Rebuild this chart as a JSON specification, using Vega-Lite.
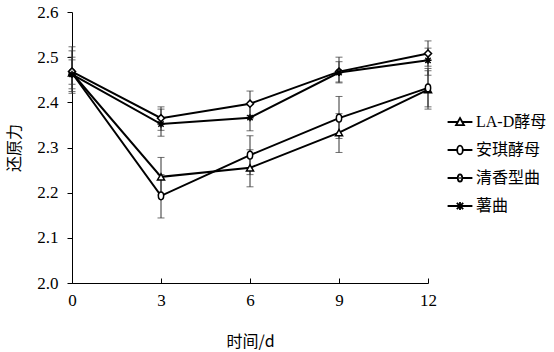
{
  "$schema": "https://vega.github.io/schema/vega-lite/v6.json",
  "width": 356,
  "height": 271,
  "autosize": {"type": "none"},
  "padding": {"left": 72, "top": 12, "right": 126, "bottom": 69},
  "background": "white",
  "config": {
    "view": {"stroke": null},
    "font": "Liberation Serif, 'Noto Sans CJK SC'",
    "axis": {
      "grid": false,
      "domainColor": "#000",
      "tickColor": "#000",
      "labelColor": "#000",
      "titleColor": "#000",
      "labelFont": "Liberation Serif",
      "labelFontSize": 17,
      "titleFont": "'Noto Sans CJK SC', Liberation Serif",
      "titleFontSize": 16,
      "titleFontWeight": "normal"
    }
  },
  "data": {
    "values": [
      {"series": "LA-D酵母", "day": 0, "value": 2.465, "lo": 2.43, "hi": 2.50},
      {"series": "LA-D酵母", "day": 3, "value": 2.235, "lo": 2.195, "hi": 2.278},
      {"series": "LA-D酵母", "day": 6, "value": 2.255, "lo": 2.213, "hi": 2.295},
      {"series": "LA-D酵母", "day": 9, "value": 2.333, "lo": 2.289, "hi": 2.375},
      {"series": "LA-D酵母", "day": 12, "value": 2.428, "lo": 2.385, "hi": 2.47},
      {"series": "安琪酵母", "day": 0, "value": 2.465, "lo": 2.42, "hi": 2.514},
      {"series": "安琪酵母", "day": 3, "value": 2.193, "lo": 2.144, "hi": 2.24},
      {"series": "安琪酵母", "day": 6, "value": 2.283, "lo": 2.24, "hi": 2.326},
      {"series": "安琪酵母", "day": 9, "value": 2.365, "lo": 2.32, "hi": 2.413},
      {"series": "安琪酵母", "day": 12, "value": 2.432, "lo": 2.39, "hi": 2.475},
      {"series": "清香型曲", "day": 0, "value": 2.468, "lo": 2.44, "hi": 2.494},
      {"series": "清香型曲", "day": 3, "value": 2.365, "lo": 2.338, "hi": 2.39},
      {"series": "清香型曲", "day": 6, "value": 2.397, "lo": 2.37, "hi": 2.425},
      {"series": "清香型曲", "day": 9, "value": 2.468, "lo": 2.445, "hi": 2.49},
      {"series": "清香型曲", "day": 12, "value": 2.508, "lo": 2.48, "hi": 2.536},
      {"series": "薯曲", "day": 0, "value": 2.462, "lo": 2.424, "hi": 2.523},
      {"series": "薯曲", "day": 3, "value": 2.352, "lo": 2.325, "hi": 2.385},
      {"series": "薯曲", "day": 6, "value": 2.366, "lo": 2.337, "hi": 2.395},
      {"series": "薯曲", "day": 9, "value": 2.466, "lo": 2.443, "hi": 2.5},
      {"series": "薯曲", "day": 12, "value": 2.493, "lo": 2.46, "hi": 2.52}
    ]
  },
  "encoding": {
    "x": {
      "field": "day", "type": "quantitative",
      "scale": {"domain": [0, 12], "nice": false, "zero": false},
      "axis": {"values": [0, 3, 6, 9, 12], "tickSize": -5, "labelPadding": 14, "title": "时间/d", "titlePadding": 25, "labelFlush": false}
    }
  },
  "layer": [
    {
      "mark": {"type": "rule", "color": "#333", "strokeWidth": 1},
      "encoding": {
        "y": {"field": "lo", "type": "quantitative"},
        "y2": {"field": "hi"},
        "detail": {"field": "series"}
      }
    },
    {
      "mark": {"type": "tick", "orient": "horizontal", "color": "#333", "size": 7, "thickness": 1},
      "encoding": {"y": {"field": "lo", "type": "quantitative"}}
    },
    {
      "mark": {"type": "tick", "orient": "horizontal", "color": "#333", "size": 7, "thickness": 1},
      "encoding": {"y": {"field": "hi", "type": "quantitative"}}
    },
    {
      "mark": {"type": "line", "color": "#000", "strokeWidth": 2},
      "encoding": {
        "y": {"field": "value", "type": "quantitative"},
        "detail": {"field": "series"}
      }
    },
    {
      "mark": {"type": "point", "filled": false, "fill": "white", "fillOpacity": 1, "stroke": "#000", "strokeWidth": 1.5, "size": 50, "opacity": 1},
      "encoding": {
        "y": {
          "field": "value", "type": "quantitative",
          "scale": {"domain": [2.0, 2.6], "nice": false, "zero": false},
          "axis": {"values": [2.0, 2.1, 2.2, 2.3, 2.4, 2.5, 2.6], "format": ".1f", "tickSize": 5, "labelPadding": 9, "title": "还原力", "titlePadding": 14}
        },
        "shape": {
          "field": "series", "type": "nominal",
          "scale": {
            "domain": ["LA-D酵母", "安琪酵母", "清香型曲", "薯曲"],
            "range": ["triangle-up", "M-0.75,0A0.75,1.1 0 1,0 0.75,0A0.75,1.1 0 1,0 -0.75,0Z", "diamond", "M-1,0L1,0M0,-1L0,1M-0.75,-0.75L0.75,0.75M-0.75,0.75L0.75,-0.75"]
          },
          "legend": null
        }
      }
    },
    {
      "mark": {"type": "point", "opacity": 0, "size": 64},
      "encoding": {
        "y": {"field": "value", "type": "quantitative"},
        "shape": {
          "field": "series", "type": "nominal",
          "scale": {
            "domain": ["LA-D酵母", "安琪酵母", "清香型曲", "薯曲"],
            "range": [
              "M-3.1,0L-0.56,0M0.56,0L3.1,0M0,-1L1,0.8L-1,0.8Z",
              "M-3.1,0L-0.7,0M0.7,0L3.1,0M-0.7,0A0.7,1.1 0 1,0 0.7,0A0.7,1.1 0 1,0 -0.7,0Z",
              "M-3.1,0L-0.55,0M0.55,0L3.1,0M-0.55,0A0.55,0.9 0 1,0 0.55,0A0.55,0.9 0 1,0 -0.55,0ZM-0.15,0L0.15,0",
              "M-3.1,0L3.1,0M0,-1L0,1M-0.8,-0.8L0.8,0.8M-0.8,0.8L0.8,-0.8"
            ]
          },
          "legend": {
            "title": null,
            "orient": "none",
            "legendX": 380,
            "legendY": 102,
            "labelFont": "Liberation Serif, 'Noto Sans CJK SC'",
            "labelFontSize": 16,
            "labelColor": "#000",
            "labelOffset": 8,
            "rowPadding": 12,
            "symbolSize": 64,
            "symbolStrokeColor": "#000",
            "symbolFillColor": "white",
            "symbolStrokeWidth": 1.8,
            "symbolOpacity": 1,
            "encode": {
              "symbols": {
                "update": {
                  "opacity": {"value": 1},
                  "stroke": {"value": "#000"},
                  "strokeOpacity": {"value": 1},
                  "fill": {"value": "white"},
                  "fillOpacity": {"value": 1}
                }
              }
            }
          }
        }
      }
    }
  ],
  "resolve": {"scale": {"shape": "independent"}, "legend": {"shape": "independent"}}
}
